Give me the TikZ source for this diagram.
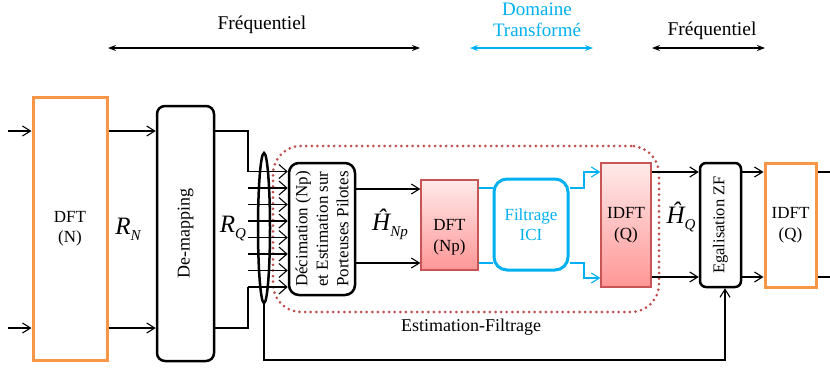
\documentclass[tikz,border=0pt]{standalone}
\usepackage{fontspec}
\setmainfont{Liberation Serif}
\usetikzlibrary{arrows.meta,shapes.geometric}
\definecolor{orng}{RGB}{247,150,70}
\definecolor{cyn}{RGB}{0,176,240}
\definecolor{dred}{RGB}{192,80,77}
\definecolor{pinkT}{RGB}{255,234,234}
\definecolor{pinkB}{RGB}{255,150,150}
\definecolor{pinkD}{RGB}{200,85,85}
\newcommand{\symlbl}[2]{{\fontsize{25}{25}\selectfont\itshape #1}\raisebox{-6pt}{\fontsize{15}{15}\selectfont\itshape #2}}
\begin{document}
\begin{tikzpicture}[x=1pt,y=-1pt,
  font=\fontsize{17}{20.5}\selectfont,
  arr/.style={-{Straight Barb[length=8pt,width=10pt]}},
  barr/.style={-{Straight Barb[length=8pt,width=14pt]}},
  conn/.style={line width=1.1pt},
  dbl/.style={line width=1.3pt,{Stealth[length=8pt,width=6pt]}-{Stealth[length=8pt,width=6pt]}},
  orbox/.style={draw=orng,line width=3pt,minimum width=#1,inner sep=0pt},
  blkbox/.style={draw=black,line width=2.5pt,rounded corners=8pt,inner sep=0pt},
  pkbox/.style={draw=pinkD,line width=1.3pt,top color=pinkT,bottom color=pinkB,inner sep=0pt,align=center},
  cybox/.style={draw=cyn,line width=3pt,rounded corners=13pt,text=cyn,inner sep=0pt,align=center},
  ]
\useasboundingbox (0,0) rectangle (830,367);

% top domain labels
\node (f1) at (262,25) {\fontsize{19.5}{22}\selectfont Fréquentiel};
\coordinate (a1l) at (108,48); \coordinate (a1r) at (420,48);
\draw[dbl] (a1l) -- (a1r);
\node[text=cyn,align=center] (dom) at (537,20) {\fontsize{19}{22}\selectfont Domaine\\ \fontsize{19}{22}\selectfont Transformé};
\coordinate (a2l) at (470,48); \coordinate (a2r) at (593,48);
\draw[dbl,draw=cyn,fill=cyn] (a2l) -- (a2r);
\node (f2) at (712,31) {\fontsize{19.5}{22}\selectfont Fréquentiel};
\coordinate (a3l) at (652,48); \coordinate (a3r) at (765,48);
\draw[dbl] (a3l) -- (a3r);

% dotted estimation region
\node[draw=dred,line width=3pt,dash pattern=on 0pt off 5.6pt,line cap=round,rounded corners=28pt,minimum width=386pt,minimum height=166pt] (estim) at (466,229) {};
\node (estl) at (471,327) {\fontsize{18}{20}\selectfont Estimation-Filtrage};

% boxes
\node[orbox=74pt,minimum height=263pt,align=center] (dftN) at (70,228.5) {DFT\\(N)};
\node[blkbox,minimum width=57pt,minimum height=255pt] (demap) at (185.5,233.5) {};
\node[rotate=90] (demapt) at (demap.center) {\fontsize{18}{20}\selectfont De-mapping};
\node[blkbox,rounded corners=10pt,minimum width=66pt,minimum height=132pt] (dec) at (322,229) {};
\node[rotate=90,align=center] (dect) at (dec.center) {Décimation (Np)\\et Estimation sur\\Porteuses Pilotes};
\node[pkbox,minimum width=57pt,minimum height=90pt] (dftNp) at (449.5,225) {};
\node[align=center] (dftNpt) at (449.5,237) {DFT\\(Np)};
\node[cybox,minimum width=74pt,minimum height=91pt] (fil) at (531,224.5) {Filtrage\\ICI};
\node[pkbox,minimum width=50pt,minimum height=124pt] (idftQ) at (626,225) {IDFT\\(Q)};
\node[blkbox,rounded corners=6pt,minimum width=41pt,minimum height=124pt] (egal) at (720.5,225) {};
\node[rotate=90] (egalt) at (egal.center) {\fontsize{16.5}{20}\selectfont Egalisation ZF};
\node[orbox=51pt,minimum height=124pt,align=center] (idftO) at (790.5,225) {IDFT\\(Q)};

\node[draw,line width=2.5pt,ellipse,inner sep=0pt,minimum width=12pt,minimum height=150pt] (ell) at (264,228) {};

% symbol labels
\node (rn) at (128,229) {\symlbl{R}{N}};
\node (rq) at (233,229) {\symlbl{R}{Q}};
\node (hnp) at (390,224) {\symlbl{\^H}{Np}};
\node (hq) at (681,217) {\symlbl{\^H}{Q}};

% inputs
\coordinate (in1) at (8,131); \coordinate (in2) at (8,328);
\draw[conn,arr] (in1) -- (in1 -| dftN.west);
\draw[conn,arr] (in2) -- (in2 -| dftN.west);
\draw[conn,arr] (dftN.east |- in1) -- (demap.west |- in1);
\draw[conn,arr] (dftN.east |- in2) -- (demap.west |- in2);

% de-mapping to decimation
\coordinate (vx) at (248,0);
\draw[conn] (demap.east |- in1) -- (vx |- in1) -- (248,171.5);
\draw[conn] (demap.east |- in2) -- (vx |- in2) -- (248,287);
\foreach \k in {0,...,7}{
  \pgfmathsetmacro{\yy}{171.5+16.5*\k}
  \draw[conn,barr] (248,\yy) -- (dec.west |- 0,\yy);
}

% decimation to DFT(Np)
\draw[conn,arr] (dec.east |- 0,189) -- (dftNp.west |- 0,189);
\draw[conn,arr] (dec.east |- 0,263) -- (dftNp.west |- 0,263);

% cyan links
\draw[conn,cyn] (dftNp.east |- 0,188) -- (fil.west |- 0,188);
\draw[conn,cyn] (dftNp.east |- 0,263) -- (fil.west |- 0,263);
\draw[conn,cyn,arr] (fil.east |- 0,188) -- (584,188) -- (584,172) -- (idftQ.west |- 0,172);
\draw[conn,cyn,arr] (fil.east |- 0,263) -- (584,263) -- (584,278) -- (idftQ.west |- 0,278);

% to egalisation and output
\draw[conn,arr] (idftQ.east |- 0,172) -- (egal.west |- 0,172);
\draw[conn,arr] (idftQ.east |- 0,277) -- (egal.west |- 0,277);
\draw[conn,arr] (egal.east |- 0,172) -- (idftO.west |- 0,172);
\draw[conn,arr] (egal.east |- 0,277) -- (idftO.west |- 0,277);
\coordinate (o1) at (830,172); \coordinate (o2) at (830,277);
\draw[conn] (idftO.east |- o1) -- (o1);
\draw[conn] (idftO.east |- o2) -- (o2);

% feedback line
\coordinate (fb) at (725,360);
\draw[conn,arr] (ell.south) -- (ell.south |- fb) -- (fb) -- (egal.south -| fb);
\end{tikzpicture}
\end{document}
